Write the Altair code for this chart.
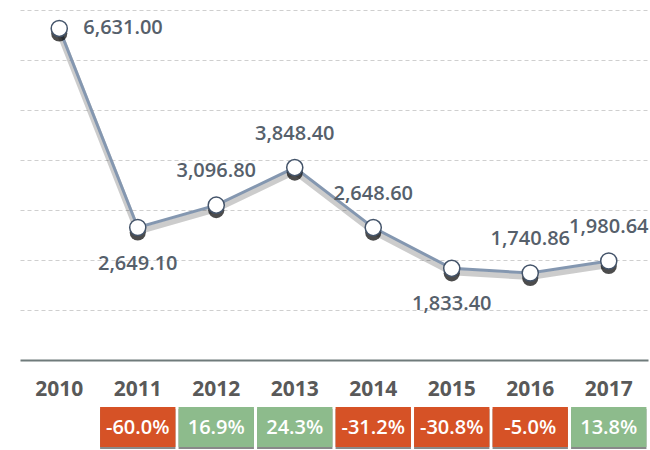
import altair as alt
import pandas as pd

years = ["2010", "2011", "2012", "2013", "2014", "2015", "2016", "2017"]
values = [6631.00, 2649.10, 3096.80, 3848.40, 2648.60, 1833.40, 1740.86, 1980.64]
labels = ["6,631.00", "2,649.10", "3,096.80", "3,848.40", "2,648.60", "1,833.40", "1,740.86", "1,980.64"]
pct = [None, -60.0, 16.9, 24.3, -31.2, -30.8, -5.0, 13.8]
pct_labels = ["", "-60.0%", "16.9%", "24.3%", "-31.2%", "-30.8%", "-5.0%", "13.8%"]

df = pd.DataFrame({"year": years, "value": values, "label": labels,
                   "pct": pct, "pct_label": pct_labels})

FONT = "Open Sans"
TXT = "#595959"

x = alt.X("year:N", sort=years,
          scale=alt.Scale(type="band", paddingInner=0.04, paddingOuter=0.02),
          axis=alt.Axis(title=None, labelAngle=0, ticks=False, domain=True, grid=False,
                        domainColor="#6f7b7b", domainWidth=2,
                        labelFont=FONT, labelFontSize=21, labelFontWeight="bold",
                        labelColor=TXT, labelPadding=18))
y = alt.Y("value:Q", scale=alt.Scale(domain=[0, 7000], nice=False),
          axis=alt.Axis(title=None, labels=False, ticks=False, domain=False,
                        grid=True, gridDash=[4, 3], gridColor="#cfcfcf",
                        gridWidth=1, values=[1000, 2000, 3000, 4000, 5000, 6000, 7000]))

base = alt.Chart(df)

line_shadow = base.mark_line(color="#000000", opacity=0.2, strokeWidth=6,
                             yOffset=4).encode(x=x, y=y)
line = base.mark_line(color="#8497B0", strokeWidth=3).encode(x=x, y=y)
pt_shadow = base.mark_point(filled=True, shape="circle", size=260, color="#000000",
                            opacity=0.7, yOffset=5).encode(x=x, y=y)
pts = base.mark_point(filled=True, shape="circle", size=260, fill="white",
                      stroke="#44546A", strokeWidth=1.5, opacity=1).encode(x=x, y=y)

txt_kw = dict(font=FONT, fontSize=20, fontWeight=600, color="#56606b")
lab_right = base.transform_filter(alt.FieldOneOfPredicate(field="year", oneOf=["2010"])).mark_text(
    align="left", baseline="middle", dx=24, **txt_kw).encode(x=x, y=y, text="label:N")
lab_below = base.transform_filter(alt.FieldOneOfPredicate(field="year", oneOf=["2011", "2015"])).mark_text(
    align="center", baseline="middle", dy=36, **txt_kw).encode(x=x, y=y, text="label:N")
lab_above = base.transform_filter(
    alt.FieldOneOfPredicate(field="year", oneOf=["2012", "2013", "2014", "2016", "2017"])).mark_text(
    align="center", baseline="middle", dy=-34, **txt_kw).encode(x=x, y=y, text="label:N")

boxes_data = base.transform_filter("isValid(datum.pct)")
box_shadow = boxes_data.mark_bar(color="#3a3a3a", opacity=0.6).encode(
    x=x, y=alt.value(399), y2=alt.value(439))
boxes = boxes_data.mark_bar(opacity=1).encode(
    x=x, y=alt.value(397), y2=alt.value(437),
    color=alt.condition("datum.pct < 0", alt.value("#D65226"), alt.value("#8DBB8C")))
box_text = boxes_data.mark_text(font=FONT, fontSize=20, fontWeight=600, color="white",
                                align="center", baseline="middle").encode(
    x=x, y=alt.value(418), text="pct_label:N")

chart = alt.layer(line_shadow, line, pt_shadow, pts, lab_right, lab_below, lab_above,
                  box_shadow, boxes, box_text).properties(
    width=628, height=350,
    background="white",
    autosize=alt.AutoSizeParams(type="none"),
    padding={"left": 20, "top": 10, "right": 2, "bottom": 90},
).configure_view(stroke="transparent", strokeWidth=0)

chart.save("out.html", embed_options={"renderer": "svg", "actions": False})
